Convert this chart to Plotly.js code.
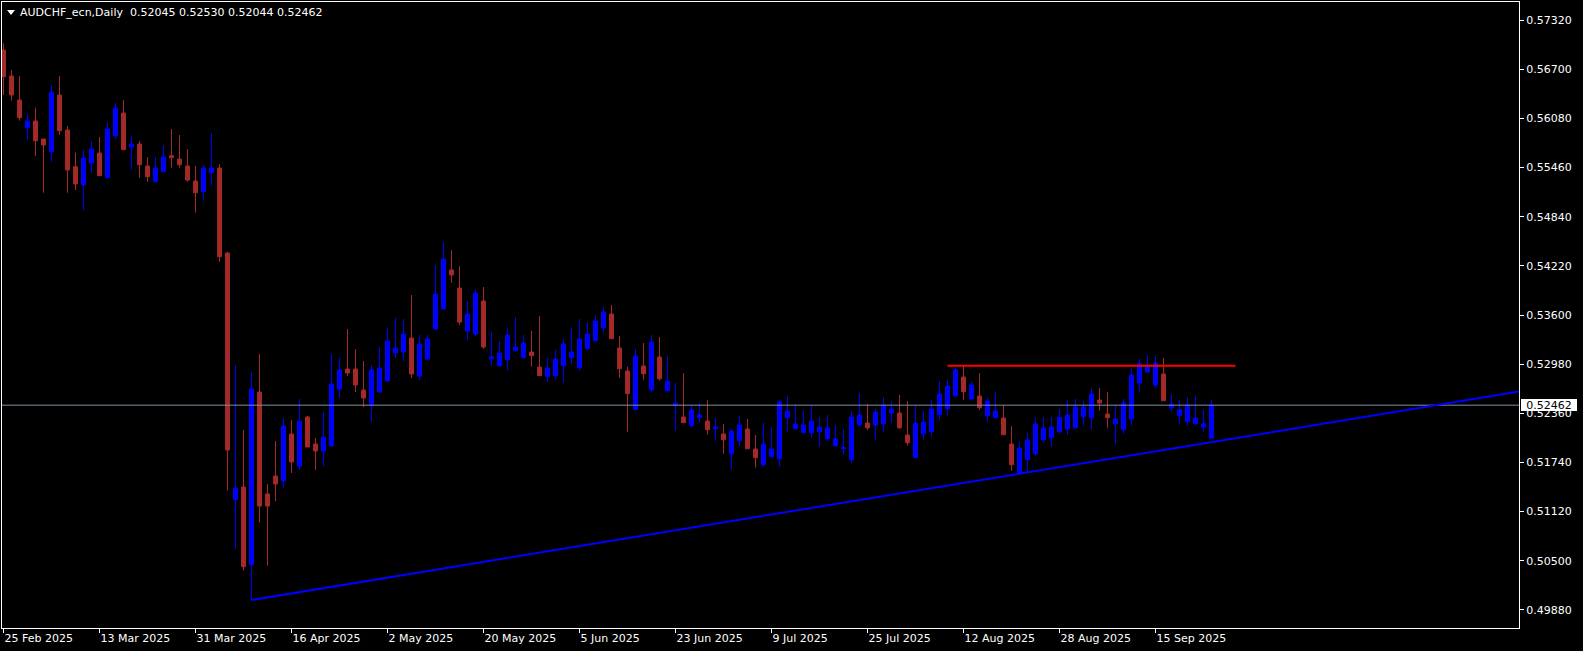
<!DOCTYPE html>
<html><head><meta charset="utf-8">
<script src="https://cdn.plot.ly/plotly-3.0.1.min.js"></script>
<style>html,body{margin:0;padding:0;background:#000;overflow:hidden}#chart{width:1583px;height:651px}</style>
</head><body><div id="chart"></div>
<script>
const symbolName = 'AUDCHF_ecn,Daily';

const open = [
0.56944,0.56616,0.56313,0.55963,0.56048,0.55821,0.55661,0.56376,0.55934,0.55471,
0.55240,0.55518,0.55644,0.55332,0.55862,0.56149,0.55720,0.55758,0.55480,0.55282,
0.55408,0.55610,0.55568,0.55480,0.55291,0.55156,0.55396,0.55455,0.54382,0.51269,
0.51429,0.50449,0.52628,0.51341,0.51568,0.51505,0.52098,0.51694,0.52313,0.51972,
0.51883,0.51947,0.52666,0.52918,0.52918,0.52653,0.52464,0.52628,0.52767,0.53120,
0.53133,0.53309,0.52830,0.53044,0.53423,0.53675,0.54168,0.53940,0.53398,0.53360,
0.53776,0.53048,0.52960,0.53036,0.53149,0.53061,0.53133,0.52943,0.52821,0.52834,
0.52960,0.53061,0.52935,0.53174,0.53275,0.53439,0.53612,0.53183,0.52893,0.52405,
0.52956,0.52657,0.53070,0.52644,0.52460,0.52313,0.52203,0.52304,0.52262,0.52165,
0.52098,0.51849,0.52013,0.52161,0.51909,0.51711,0.51811,0.51786,0.52304,0.52165,
0.52114,0.52114,0.52127,0.52039,0.51950,0.51912,0.51774,0.52212,0.52237,0.52212,
0.52228,0.52363,0.52363,0.52085,0.51799,0.52102,0.52127,0.52341,0.52417,0.52581,
0.52817,0.52540,0.52578,0.52329,0.52304,0.52300,0.51972,0.51597,0.51774,0.51849,
0.52026,0.52051,0.52127,0.52161,0.52177,0.52316,0.52304,0.52527,0.52350,0.52228,
0.52152,0.52287,0.52742,0.52880,0.52716,0.52855,0.52430,0.52329,0.52253,0.52228,
0.52186,0.52045];

const high = [
0.57029,0.56692,0.56616,0.56136,0.56216,0.55821,0.56502,0.56616,0.55985,0.55648,
0.55682,0.55796,0.55846,0.56035,0.56275,0.56313,0.55859,0.55796,0.55594,0.55594,
0.55745,0.55947,0.55871,0.55695,0.55480,0.55493,0.55897,0.55505,0.54395,0.52969,
0.52148,0.52880,0.53108,0.51467,0.52010,0.52300,0.52275,0.52540,0.52325,0.52047,
0.52376,0.53108,0.53057,0.53423,0.53171,0.53019,0.52969,0.53196,0.53436,0.53562,
0.53549,0.53852,0.53347,0.53347,0.54231,0.54521,0.54420,0.54218,0.53776,0.53915,
0.53953,0.53385,0.53272,0.53439,0.53575,0.53347,0.53398,0.53587,0.53061,0.53158,
0.53297,0.53436,0.53549,0.53511,0.53600,0.53701,0.53726,0.53335,0.52947,0.53171,
0.53246,0.53347,0.53322,0.53082,0.52742,0.52868,0.52464,0.52489,0.52527,0.52300,
0.52224,0.52161,0.52325,0.52287,0.52085,0.52237,0.52186,0.52527,0.52578,0.52477,
0.52392,0.52464,0.52313,0.52338,0.52212,0.52161,0.52388,0.52615,0.52477,0.52413,
0.52565,0.52506,0.52590,0.52514,0.52464,0.52388,0.52527,0.52767,0.52779,0.52935,
0.52956,0.52754,0.52868,0.52552,0.52628,0.52464,0.52199,0.51997,0.52111,0.52300,
0.52313,0.52313,0.52413,0.52527,0.52540,0.52514,0.52678,0.52678,0.52628,0.52468,
0.52540,0.52931,0.53044,0.53095,0.53082,0.53057,0.52603,0.52527,0.52565,0.52581,
0.52405,0.52530];

const low = [
0.56376,0.56304,0.56052,0.55808,0.55606,0.55143,0.55534,0.55871,0.55143,0.55177,
0.54925,0.55392,0.55358,0.55332,0.55821,0.55686,0.55433,0.55332,0.55282,0.55282,
0.55408,0.55459,0.55459,0.55282,0.54891,0.55042,0.55232,0.54272,0.51382,0.50647,
0.50373,0.50003,0.50979,0.50436,0.51252,0.51416,0.51606,0.51644,0.51934,0.51644,
0.51694,0.51947,0.52552,0.52830,0.52628,0.52439,0.52249,0.52615,0.52754,0.53057,
0.53019,0.52805,0.52779,0.53032,0.53410,0.53675,0.54004,0.53474,0.53284,0.53335,
0.53171,0.52960,0.52947,0.52897,0.53149,0.53061,0.52947,0.52834,0.52758,0.52783,
0.52745,0.52985,0.52897,0.53162,0.53275,0.53376,0.53301,0.52808,0.52127,0.52405,
0.52783,0.52632,0.52771,0.52632,0.52140,0.52241,0.52190,0.52241,0.52089,0.52013,
0.51849,0.51647,0.51950,0.51912,0.51673,0.51685,0.51811,0.51685,0.52127,0.52165,
0.52114,0.52051,0.51938,0.52010,0.51938,0.51837,0.51736,0.52190,0.52152,0.52026,
0.52127,0.52241,0.52165,0.51950,0.51799,0.52026,0.52064,0.52278,0.52329,0.52556,
0.52531,0.52540,0.52405,0.52253,0.52304,0.52089,0.51635,0.51597,0.51622,0.51824,
0.51988,0.51938,0.52102,0.52085,0.52161,0.52203,0.52152,0.52392,0.52177,0.51963,
0.52102,0.52203,0.52632,0.52868,0.52682,0.52518,0.52379,0.52228,0.52203,0.52203,
0.52127,0.52044];

const close = [
0.56607,0.56376,0.56090,0.56048,0.55799,0.55745,0.56414,0.55926,0.55430,0.55253,
0.55581,0.55695,0.55358,0.55947,0.56212,0.55686,0.55758,0.55497,0.55345,0.55455,
0.55594,0.55585,0.55497,0.55303,0.55143,0.55455,0.55455,0.54335,0.51896,0.51416,
0.50423,0.52666,0.51189,0.51189,0.51467,0.52199,0.51745,0.52262,0.51934,0.51883,
0.52060,0.52729,0.52906,0.52868,0.52716,0.52552,0.52906,0.52931,0.53272,0.53183,
0.53360,0.52855,0.53234,0.53297,0.53865,0.54306,0.54105,0.53511,0.53612,0.53877,
0.53196,0.53073,0.53120,0.53347,0.53196,0.53246,0.53086,0.52834,0.52931,0.53044,
0.53234,0.53133,0.53297,0.53360,0.53524,0.53638,0.53301,0.52922,0.52607,0.53082,
0.52859,0.53259,0.52796,0.52763,0.52489,0.52241,0.52401,0.52338,0.52152,0.52186,
0.52026,0.52136,0.52212,0.51912,0.51799,0.51972,0.51909,0.52502,0.52388,0.52224,
0.52212,0.52262,0.52186,0.52174,0.52035,0.51925,0.52313,0.52338,0.52177,0.52376,
0.52464,0.52413,0.52177,0.51988,0.52233,0.52249,0.52413,0.52603,0.52704,0.52906,
0.52632,0.52716,0.52430,0.52514,0.52388,0.52089,0.51711,0.51921,0.52022,0.52224,
0.52174,0.52186,0.52309,0.52338,0.52439,0.52439,0.52603,0.52489,0.52304,0.52287,
0.52489,0.52843,0.52985,0.52947,0.52994,0.52518,0.52477,0.52405,0.52464,0.52300,
0.52228,0.52462];

const dateTickIndex = [0,12,24,36,48,60,72,84,96,108,120,132,144];
const dateTickText = ['25 Feb 2025','13 Mar 2025','31 Mar 2025','16 Apr 2025','2 May 2025','20 May 2025','5 Jun 2025','23 Jun 2025','9 Jul 2025','25 Jul 2025','12 Aug 2025','28 Aug 2025','15 Sep 2025'];
const priceTicks = [0.49880,0.50500,0.51120,0.51740,0.52360,0.52980,0.53600,0.54220,0.54840,0.55460,0.56080,0.56700,0.57320];

const resistanceLevel = 0.52961;
const resistanceSpan = [118, 154];
const trendAnchors = [31, 127];

const n = close.length;
const idx = close.map((_, i) => i);
const last = n - 1;
const xRange = [-0.1875, 189.4375];
const yRange = [0.49650, 0.57550];

// trendline through the two anchor lows, extended to the right as a ray
const a0 = trendAnchors[0], a1 = trendAnchors[1];
const slope = (low[a1] - low[a0]) / (a1 - a0);
const trendEnd = xRange[1] + 5;
const trendX = [a0, trendEnd];
const trendY = [low[a0], low[a0] + slope * (trendEnd - a0)];

const BULL = '#0000FF', BEAR = '#A52A2A';
const FONT = 'DejaVu Sans, Verdana, sans-serif';

const traces = [
  { type: 'scatter', mode: 'lines', x: [xRange[0] - 5, xRange[1] + 5], y: [close[last], close[last]],
    line: { color: '#8090A4', width: 1 }, hoverinfo: 'skip', showlegend: false },
  { type: 'candlestick', x: idx, open: open, high: high, low: low, close: close,
    increasing: { line: { color: BULL, width: 1 }, fillcolor: BULL },
    decreasing: { line: { color: BEAR, width: 1 }, fillcolor: BEAR },
    whiskerwidth: 0, hoverinfo: 'none', showlegend: false },
  { type: 'scatter', mode: 'lines', x: resistanceSpan, y: [resistanceLevel, resistanceLevel],
    line: { color: '#FF0000', width: 2 }, hoverinfo: 'skip', showlegend: false },
  { type: 'scatter', mode: 'lines', x: trendX, y: trendY,
    line: { color: '#0000FF', width: 2 }, hoverinfo: 'skip', showlegend: false }
];

const W = 1583, H = 651, mL = 2, mR = 64, mT = 2, mB = 23;
const pw = W - mL - mR, ph = H - mT - mB;
const px = v => (v - mL) / pw;
const py = v => (H - mB - v) / ph;

const headerText = symbolName + '\u00A0\u00A0' + [open[last], high[last], low[last], close[last]].map(v => v.toFixed(5)).join(' ');

const layout = {
  width: W, height: H,
  margin: { l: mL, r: mR, t: mT, b: mB, pad: 0 },
  paper_bgcolor: '#000000', plot_bgcolor: '#000000',
  showlegend: false, hovermode: false, dragmode: false,
  boxgap: 0.3, boxgroupgap: 0.3,
  font: { family: FONT, size: 11, color: '#FFFFFF' },
  xaxis: {
    range: xRange, rangeslider: { visible: false }, showgrid: false, zeroline: false,
    tickmode: 'array', tickvals: dateTickIndex, ticktext: dateTickText,
    ticks: 'outside', ticklen: 4, tickcolor: '#FFFFFF', tickwidth: 1,
    ticklabelposition: 'outside right',
    tickfont: { family: FONT, size: 11, color: '#FFFFFF' },
    showline: true, mirror: true, linecolor: '#FFFFFF', linewidth: 1
  },
  yaxis: {
    range: yRange, side: 'right', showgrid: false, zeroline: false,
    tickmode: 'array', tickvals: priceTicks, ticktext: priceTicks.map(v => v.toFixed(5)),
    ticks: 'outside', ticklen: 4, tickcolor: '#FFFFFF', tickwidth: 1,
    tickfont: { family: FONT, size: 11, color: '#FFFFFF' },
    showline: true, mirror: true, linecolor: '#FFFFFF', linewidth: 1
  },
  shapes: [
    { type: 'path', xref: 'paper', yref: 'paper',
      path: 'M ' + px(7) + ' ' + py(10) + ' L ' + px(15) + ' ' + py(10) + ' L ' + px(11) + ' ' + py(15) + ' Z',
      fillcolor: '#FFFFFF', line: { width: 0 } }
  ],
  annotations: [
    { xref: 'paper', yref: 'paper', x: px(20), y: py(12.5), xanchor: 'left', yanchor: 'middle',
      text: headerText, showarrow: false, borderpad: 0, borderwidth: 0,
      font: { family: FONT, size: 11, color: '#FFFFFF' } },
    { xref: 'paper', yref: 'y', x: px(1520.5), y: close[last], xanchor: 'left', yanchor: 'middle',
      text: close[last].toFixed(5), showarrow: false, bgcolor: '#FFFFFF', borderpad: 1, borderwidth: 0,
      width: 54, height: 10, align: 'center',
      font: { family: FONT, size: 11, color: '#000000' } }
  ]
};

Plotly.newPlot('chart', traces, layout, { staticPlot: true, displayModeBar: false });
</script>
</body></html>
